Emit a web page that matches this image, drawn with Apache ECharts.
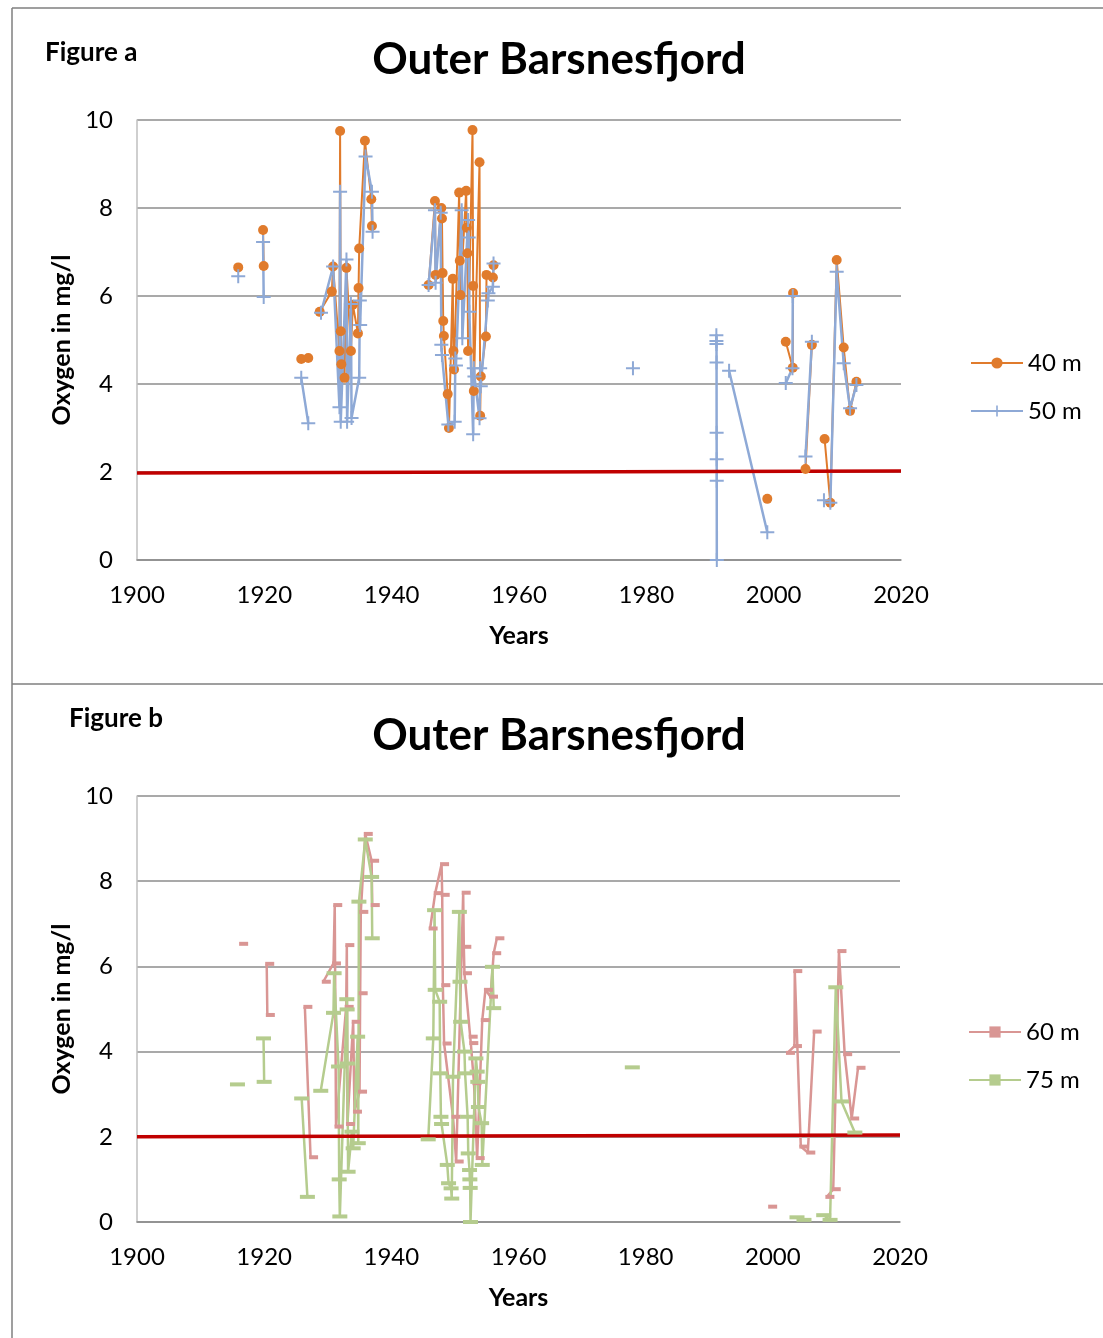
<!DOCTYPE html>
<html>
<head>
<meta charset="utf-8">
<script src="https://cdn.jsdelivr.net/npm/echarts@6/dist/echarts.min.js"></script>
<style>
html,body{margin:0;padding:0;background:#fff;}
#c{width:1103px;height:1338px;}
</style>
</head>
<body>
<div id="c"></div>
<script>
// ---- Figure a: 40 m ----
const years40 = [1915.9, null, 1919.8, 1919.9, null, 1925.8, 1926.9, null,
  1928.7, 1930.6, 1930.8, 1931.8, 1931.9, 1932.0, 1932.1, 1932.6, 1932.9, 1933.6, 1933.9, 1934.7, 1934.8, 1934.9, 1935.8, 1936.8, 1936.9, null,
  1945.8, 1946.8, 1946.9, 1947.8, 1947.9, 1948.0, 1948.1, 1948.2, 1948.8, 1949.0, 1949.6, 1949.7, 1949.8, 1950.6, 1950.7, 1950.8,
  1951.7, 1951.8, 1951.9, 1952.0, 1952.7, 1952.8, 1952.9, 1953.8, 1953.9, 1954.0, 1954.8, 1954.9, 1955.9, 1956.0, null,
  1999.0, null, 2001.9, 2003.0, 2003.05, null, 2005.0, 2006.0, null, 2008.0, 2008.9, 2009.9, 2011.0, 2012.0, 2013.0];
const o2_40 = [6.65, null, 7.5, 6.68, null, 4.57, 4.59, null,
  5.64, 6.1, 6.67, 4.75, 9.75, 5.2, 4.45, 4.14, 6.64, 4.75, 5.8, 5.15, 6.18, 7.08, 9.53, 8.2, 7.59, null,
  6.25, 8.16, 6.48, 8.0, 7.76, 6.52, 5.43, 5.09, 3.77, 3.0, 6.39, 4.75, 4.33, 8.35, 6.8, 6.02,
  8.39, 7.55, 6.97, 4.75, 9.77, 6.23, 3.84, 9.04, 3.28, 4.17, 5.08, 6.48, 6.42, 6.7, null,
  1.39, null, 4.96, 4.37, 6.07, null, 2.07, 4.89, null, 2.75, 1.3, 6.82, 4.83, 3.39, 4.05];

// ---- Figure a: 50 m ----
const years50 = [1915.9, null, 1919.8, 1919.9, null, 1925.8, 1926.9, null,
  1928.9, 1930.8, 1931.8, 1931.9, 1932.0, 1932.9, 1933.0, 1933.6, 1933.7, 1934.9, 1935.0, 1935.05, 1935.9, 1936.9, 1937.0, null,
  1945.8, 1946.8, 1946.9, 1947.7, 1947.8, 1947.9, 1948.9, 1949.9, 1950.0, 1950.1, 1951.0, 1951.1, 1952.0, 1952.1, 1952.2,
  1952.8, 1952.9, 1953.0, 1953.8, 1953.9, 1954.0, 1955.1, 1955.2, 1955.9, 1956.0, null,
  1977.9, null, 1991.0, 1991.01, 1991.02, 1991.03, 1991.04, 1991.05, 1991.06, 1991.07, null, 1993.0, 1999.0, null,
  2001.9, 2002.95, 2003.0, null, 2005.0, 2006.0, null, 2007.9, 2008.9, 2009.9, 2011.0, 2012.0, 2013.0];
const o2_50 = [6.45, null, 7.23, 5.98, null, 4.14, 3.11, null,
  5.62, 6.67, 3.47, 8.37, 3.14, 6.83, 3.14, 5.82, 3.23, 4.14, 5.9, 5.34, 9.17, 8.37, 7.46, null,
  6.25, 7.95, 6.3, 7.89, 4.89, 4.66, 3.08, 3.14, 4.58, 4.42, 7.95, 5.04, 7.73, 7.33, 5.64,
  2.86, 4.36, 4.17, 3.22, 4.36, 3.95, 5.9, 6.06, 6.21, 6.74, null,
  4.36, null, 5.11, 4.98, 4.91, 4.49, 2.89, 2.29, 1.8, 0.0, null, 4.3, 0.63, null,
  4.02, 4.36, 6.0, null, 2.35, 4.96, null, 1.36, 1.3, 6.55, 4.47, 3.45, 3.98];

// ---- Figure b: 60 m ----
const years60 = [1916.3, null, 1920.4, 1920.5, null, 1926.4, 1927.3, null,
  1929.3, 1930.9, 1931.1, 1931.3, 1932.9, 1933.0, 1933.1, 1934.0, 1934.2, 1935.0, 1935.1, 1935.2, 1935.9, 1936.9, 1937.0, null,
  1946.1, 1946.9, 1947.9, 1948.0, 1948.1, 1948.3, 1949.7, 1950.2, 1951.3, 1951.4, 1951.5, 1952.4, 1952.5, 1953.0, 1953.5,
  1954.3, 1954.8, 1955.6, 1956.1, 1956.6, null,
  1999.5, null, 2002.3, 2003.4, 2003.45, 2004.4, 2005.5, 2006.5, null, 2008.5, 2009.5, 2010.4, 2011.3, 2012.4, 2013.4];
const o2_60 = [6.53, null, 6.06, 4.86, null, 5.05, 1.52, null,
  5.64, 6.07, 7.44, 2.24, 5.05, 6.5, 2.3, 4.7, 2.59, 3.06, 5.37, 7.28, 9.11, 8.48, 7.44, null,
  6.89, 7.72, 8.4, 7.68, 5.56, 4.19, 2.47, 1.42, 7.73, 6.46, 5.84, 4.35, 4.2, 3.26, 1.5,
  4.74, 5.45, 5.29, 6.31, 6.66, null,
  0.36, null, 3.97, 4.13, 5.89, 1.77, 1.63, 4.47, null, 0.59, 0.77, 6.36, 3.94, 2.43, 3.62];

// ---- Figure b: 75 m ----
const years75 = [1915.8, null, 1919.9, 1920.0, null, 1925.9, 1926.8, null,
  1928.9, 1930.9, 1931.0, 1931.7, 1931.8, 1931.9, 1933.0, 1933.05, 1933.1, 1933.2, 1933.8, 1934.0, 1934.7, 1934.8, 1934.9, 1935.9, 1936.9, 1937.0, null,
  1945.8, 1946.6, 1946.8, 1946.9, 1947.6, 1947.7, 1947.8, 1947.9, 1948.8, 1949.0, 1949.4, 1949.5, 1949.7, 1950.7, 1950.8, 1950.9,
  1951.5, 1951.6, 1952.0, 1952.1, 1952.3, 1952.35, 1952.4, 1952.45, 1953.3, 1953.5, 1953.6, 1953.7, 1954.2, 1954.3, 1955.9, 1956.1, null,
  1977.9, null, 2003.8, 2004.9, null, 2008.0, 2009.0, 2009.9, 2010.8, 2012.9];
const o2_75 = [3.23, null, 4.31, 3.29, null, 2.9, 0.59, null,
  3.08, 4.91, 5.84, 3.65, 1.0, 0.13, 5.23, 4.99, 3.72, 1.18, 2.12, 1.73, 4.35, 1.85, 7.52, 8.98, 8.1, 6.66, null,
  1.94, 4.31, 7.32, 5.45, 5.17, 3.49, 2.47, 2.3, 1.34, 0.91, 0.79, 0.55, 3.41, 7.28, 5.64, 4.7,
  4.0, 3.49, 2.47, 1.61, 1.22, 1.0, 0.8, 0.0, 3.84, 3.53, 3.29, 2.7, 2.32, 1.34, 5.99, 5.02, null,
  3.63, null, 0.11, 0.05, null, 0.16, 0.05, 5.51, 2.83, 2.1];

// ---- 2 mg/l reference line ----
const limitYears = [1900, 2020];
const limitA = [1.98, 2.02];
const limitB = [2.0, 2.04];

// ---- axis ticks ----
const xTicks = {min: 1900, max: 2020, step: 20};
const yTicks = {min: 0, max: 10, step: 2};

function pairs(xs, ys) {
  return xs.map((x, i) => (x == null || ys[i] == null) ? ['-', '-'] : [x, ys[i]]);
}

const FONT = 'Lato, "Open Sans", sans-serif';
const PLUS = 'path://M0,6L14,6L14,8L0,8Z M6,0L8,0L8,14L6,14Z';

const chart = echarts.init(document.getElementById('c'), null, {renderer: 'canvas'});

function xAx(gi) {
  return {
    type: 'value', gridIndex: gi, min: xTicks.min, max: xTicks.max, interval: xTicks.step,
    name: 'Years', nameLocation: 'middle', nameGap: 63,
    nameTextStyle: {fontFamily: FONT, fontWeight: 'bold', fontSize: 25, color: '#000'},
    axisLine: {show: true, lineStyle: {color: '#8c8c8c', width: 1.5}},
    axisTick: {show: false},
    axisLabel: {fontFamily: FONT, fontSize: 24, color: '#000', margin: 23, formatter: v => String(v)},
    splitLine: {show: false}
  };
}
function yAx(gi) {
  return {
    type: 'value', gridIndex: gi, min: yTicks.min, max: yTicks.max, interval: yTicks.step,
    name: 'Oxygen in mg/l', nameLocation: 'middle', nameGap: 62, nameRotate: 90,
    nameTextStyle: {fontFamily: FONT, fontWeight: 'bold', fontSize: 25, color: '#000'},
    axisLine: {show: true, lineStyle: {color: '#bfbfbf', width: 1.5}},
    axisTick: {show: false},
    axisLabel: {fontFamily: FONT, fontSize: 24, color: '#000', margin: 24, formatter: v => String(v)},
    splitLine: {show: true, lineStyle: {color: '#8c8c8c', width: 1.5}}
  };
}

const option = {
  backgroundColor: '#fff',
  animation: false,
  textStyle: {fontFamily: FONT},
  grid: [
    {left: 137, right: 202, top: 120, height: 440},
    {left: 137, right: 203, top: 796, height: 426}
  ],
  xAxis: [xAx(0), xAx(1)],
  yAxis: [yAx(0), yAx(1)],
  legend: [
    {data: ['40 m', '50 m'], orient: 'vertical', left: 970, top: 351, padding: 0, itemWidth: 52, itemHeight: 14, itemGap: 24,
     textStyle: {fontFamily: FONT, fontSize: 24, color: '#000'}},
    {data: ['60 m', '75 m'], orient: 'vertical', left: 968, top: 1020, padding: 0, itemWidth: 52, itemHeight: 14, itemGap: 24,
     textStyle: {fontFamily: FONT, fontSize: 24, color: '#000'}}
  ],
  graphic: [
    {type: 'line', shape: {x1: 12, y1: 8, x2: 1103, y2: 8}, style: {stroke: '#7f7f7f', lineWidth: 1.5}},
    {type: 'line', shape: {x1: 12, y1: 8, x2: 12, y2: 1338}, style: {stroke: '#7f7f7f', lineWidth: 1.5}},
    {type: 'line', shape: {x1: 12, y1: 684, x2: 1103, y2: 684}, style: {stroke: '#7f7f7f', lineWidth: 1.5}},
    {type: 'text', left: 45, top: 40, style: {text: 'Figure a', font: 'bold 26px ' + FONT, fill: '#000'}},
    {type: 'text', left: 69, top: 706, style: {text: 'Figure b', font: 'bold 26px ' + FONT, fill: '#000'}},
    {type: 'text', x: 559, y: 60, style: {text: 'Outer Barsnesfjord', font: 'bold 44px ' + FONT, fill: '#000', align: 'center', verticalAlign: 'middle'}},
    {type: 'text', x: 559, y: 736, style: {text: 'Outer Barsnesfjord', font: 'bold 44px ' + FONT, fill: '#000', align: 'center', verticalAlign: 'middle'}}
  ],
  series: [
    {name: '40 m', type: 'line', xAxisIndex: 0, yAxisIndex: 0, data: pairs(years40, o2_40),
     connectNulls: false, symbol: 'circle', symbolSize: 10, showAllSymbol: true,
     itemStyle: {color: '#E07B2C'}, lineStyle: {color: '#E07B2C', width: 2}},
    {name: '50 m', type: 'line', xAxisIndex: 0, yAxisIndex: 0, data: pairs(years50, o2_50),
     connectNulls: false, symbol: PLUS, symbolSize: 14, showAllSymbol: true,
     itemStyle: {color: '#8EA9D6'}, lineStyle: {color: '#8EA9D6', width: 2.5}},
    {name: 'limitA', type: 'line', xAxisIndex: 0, yAxisIndex: 0, data: pairs(limitYears, limitA),
     symbol: 'none', silent: true, lineStyle: {color: '#C00000', width: 3.5}},
    {name: '60 m', type: 'line', xAxisIndex: 1, yAxisIndex: 1, data: pairs(years60, o2_60),
     connectNulls: false, symbol: 'rect', symbolSize: [9, 4], symbolOffset: [3, 0], showAllSymbol: true,
     itemStyle: {color: '#D99694'}, lineStyle: {color: '#D99694', width: 2.5}},
    {name: '75 m', type: 'line', xAxisIndex: 1, yAxisIndex: 1, data: pairs(years75, o2_75),
     connectNulls: false, symbol: 'rect', symbolSize: [15, 4], showAllSymbol: true,
     itemStyle: {color: '#B5CC8E'}, lineStyle: {color: '#B5CC8E', width: 2.5}},
    {name: 'limitB', type: 'line', xAxisIndex: 1, yAxisIndex: 1, data: pairs(limitYears, limitB),
     symbol: 'none', silent: true, lineStyle: {color: '#C00000', width: 3.5}}
  ]
};
chart.setOption(option);
</script>
</body>
</html>
